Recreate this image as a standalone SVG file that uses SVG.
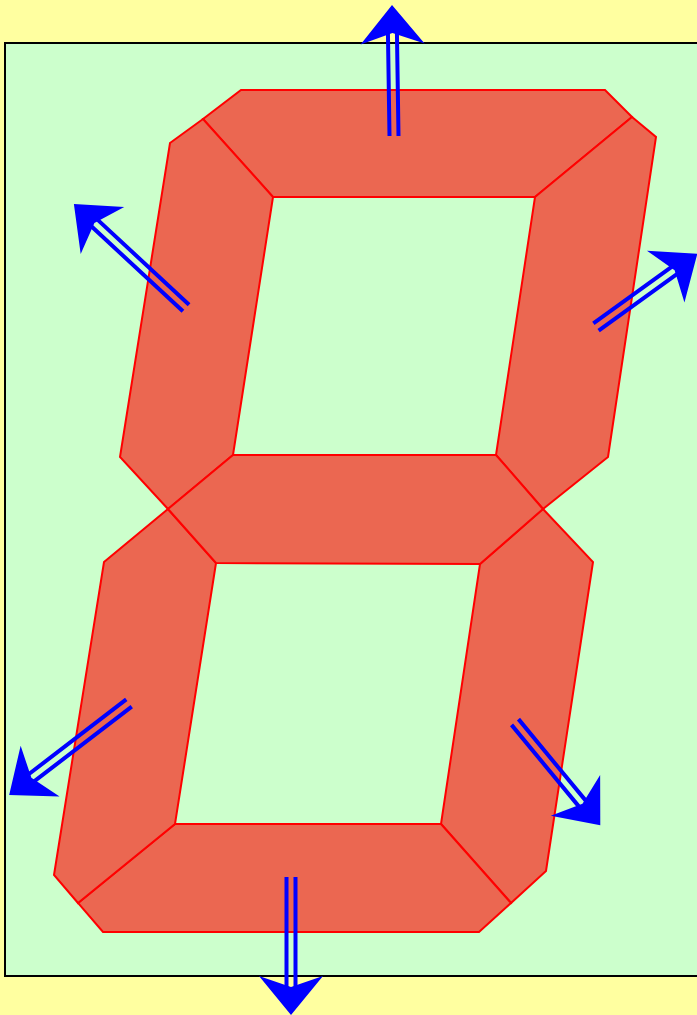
<svg xmlns="http://www.w3.org/2000/svg" width="697" height="1015" viewBox="0 0 697 1015">
<style>
.seg{fill:#EB6751;stroke:#FF0000;stroke-width:2;stroke-linejoin:miter}
.ln{stroke:#0000FF;stroke-width:4;fill:none}
.hd{fill:#0000FF;stroke:none}
</style>
<rect x="0" y="0" width="697" height="1015" fill="#FFFFA0"/>
<rect id="panel" x="5" y="43" width="700" height="933" fill="#CCFFCC" stroke="#000000" stroke-width="2"/>
<g id="seg-a"><polygon class="seg" points="203,119 241,90 605,90 632,117 535,197 273,197"/></g>
<g id="seg-b"><polygon class="seg" points="632,117 656,137 608,457 543,509 496,455 535,197"/></g>
<g id="seg-c"><polygon class="seg" points="543,509 593,562 546,871 511,903 441,824 480,564"/></g>
<g id="seg-d"><polygon class="seg" points="511,903 479,932 103,932 78,903 175,824 441,824"/></g>
<g id="seg-e"><polygon class="seg" points="78,903 54,875 104,562 168,509 216,563 175,824"/></g>
<g id="seg-f"><polygon class="seg" points="168,509 120,457 170,143 203,119 273,197 233,455"/></g>
<g id="seg-g"><polygon class="seg" points="168,509 233,455 496,455 543,509 480,564 216,563"/></g>
<g id="connectors">
<g id="arrow-top" transform="translate(394,136) rotate(-90.87)">
<path class="ln" d="M0,-4.5H103M0,4.5H103"/><polygon class="hd" points="131,0 92,-32 103,0 92,32"/></g>
<g id="arrow-topleft" transform="translate(186,308) rotate(-137.12)">
<path class="ln" d="M0,-4.5H125M0,4.5H125"/><polygon class="hd" points="153,0 114,-32 125,0 114,32"/></g>
<g id="arrow-topright" transform="translate(596,327) rotate(-35.86)">
<path class="ln" d="M0,-4.5H97M0,4.5H97"/><polygon class="hd" points="125,0 86,-32 97,0 86,32"/></g>
<g id="arrow-bottomleft" transform="translate(129,703) rotate(142.52)">
<path class="ln" d="M0,-4.5H123M0,4.5H123"/><polygon class="hd" points="151,0 112,-32 123,0 112,32"/></g>
<g id="arrow-bottomright" transform="translate(515,722) rotate(50.47)">
<path class="ln" d="M0,-4.5H106M0,4.5H106"/><polygon class="hd" points="134,0 95,-32 106,0 95,32"/></g>
<g id="arrow-bottom" transform="translate(291,877) rotate(90)">
<path class="ln" d="M0,-4.5H110M0,4.5H110"/><polygon class="hd" points="138,0 99,-32 110,0 99,32"/></g>
</g>
</svg>
